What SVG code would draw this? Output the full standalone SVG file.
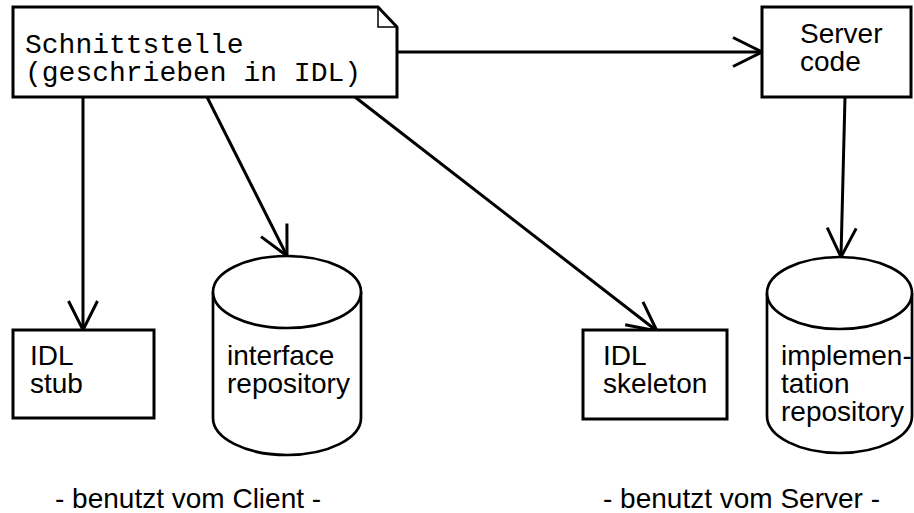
<svg xmlns="http://www.w3.org/2000/svg" width="914" height="513" viewBox="0 0 914 513">
  <style>
    .box { fill: #fff; stroke: #000; stroke-width: 3; }
    .fold { fill: none; stroke: #000; stroke-width: 1.5; }
    .db { fill: #fff; stroke: #000; stroke-width: 2.7; }
    .edge { fill: none; stroke: #000; stroke-width: 3; }
    .lbl { font-family: "Liberation Sans", Arial, Helvetica, sans-serif; font-size: 28px; fill: #000; }
    .mono { font-family: "Liberation Mono", "Courier New", monospace; font-size: 28px; fill: #000; }
  </style>
  <defs>
    <!-- open chevron arrowhead -->
    <marker id="open" markerUnits="userSpaceOnUse" markerWidth="40" markerHeight="40" refX="0" refY="0" orient="auto" overflow="visible">
      <path d="M -29,-14.5 L 0,0 L -29,14.5" fill="none" stroke="#000" stroke-width="3"/>
    </marker>
  </defs>
  <rect width="914" height="513" fill="#fff"/>

  <g id="connectors">
    <line class="edge" x1="397" y1="52" x2="762" y2="52" marker-end="url(#open)"/>
    <line class="edge" x1="83" y1="97" x2="83" y2="330" marker-end="url(#open)"/>
    <line class="edge" x1="207" y1="97" x2="287" y2="256" marker-end="url(#open)"/>
    <line class="edge" x1="355" y1="97" x2="657" y2="331" marker-end="url(#open)"/>
    <line class="edge" x1="845" y1="97" x2="841" y2="257" marker-end="url(#open)"/>
  </g>

  <g id="interface-idl">
    <path class="box" d="M13,7 L378,7 L397,27 L397,97 L13,97 Z"/>
    <path class="fold" d="M378,8 L378,27 L396,27"/>
    <text class="mono" x="25" y="53">Schnittstelle</text>
    <text class="mono" x="25" y="81">(geschrieben in IDL)</text>
  </g>

  <g id="server-code">
    <rect class="box" x="762" y="7" width="149" height="90"/>
    <text class="lbl" x="800" y="43">Server</text>
    <text class="lbl" x="800" y="71">code</text>
  </g>

  <g id="idl-stub">
    <rect class="box" x="13" y="330" width="141" height="88"/>
    <text class="lbl" x="30" y="365">IDL</text>
    <text class="lbl" x="30" y="393">stub</text>
  </g>

  <g id="interface-repository">
    <path class="db" d="M213,292 L213,418 A74,37 0 0 0 361,418 L361,292"/>
    <ellipse class="db" cx="287" cy="292" rx="74" ry="36"/>
    <text class="lbl" x="227" y="365">interface</text>
    <text class="lbl" x="227" y="393">repository</text>
  </g>

  <g id="idl-skeleton">
    <rect class="box" x="583" y="330" width="144" height="89"/>
    <text class="lbl" x="603" y="365">IDL</text>
    <text class="lbl" x="603" y="393">skeleton</text>
  </g>

  <g id="implementation-repository">
    <path class="db" d="M767,293 L767,416 A72.5,37 0 0 0 912,416 L912,293"/>
    <ellipse class="db" cx="839.5" cy="293" rx="72.5" ry="36"/>
    <text class="lbl" x="781" y="365">implemen-</text>
    <text class="lbl" x="781" y="393">tation</text>
    <text class="lbl" x="781" y="421">repository</text>
  </g>

  <g id="captions">
    <text class="lbl" x="55" y="508">- benutzt vom Client -</text>
    <text class="lbl" x="603" y="508">- benutzt vom Server -</text>
  </g>
</svg>
